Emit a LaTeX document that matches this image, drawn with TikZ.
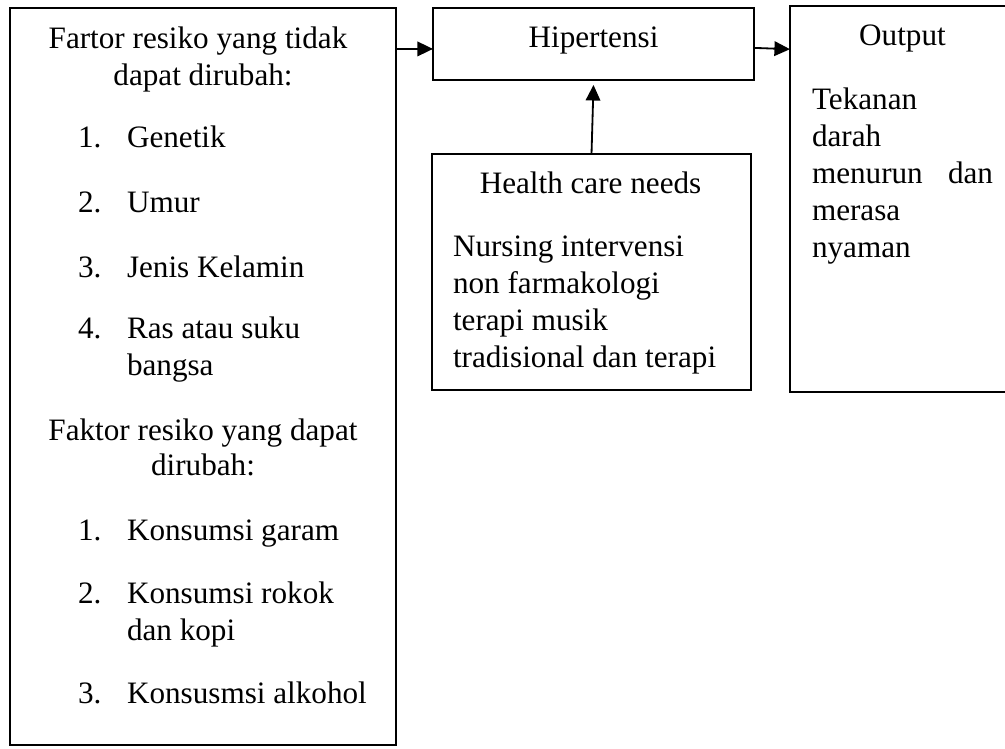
\documentclass[tikz,border=0pt]{standalone}
\usepackage{fontspec}
\setmainfont{Liberation Serif}
\usetikzlibrary{arrows.meta}
\newdimen\pxu \pxu=0.385pt
\tikzset{
  box/.style={draw=black, line width=0.5pt, rectangle, inner sep=0pt, outer sep=0pt, anchor=north west, fill=none},
  txt/.style={inner sep=0pt, outer sep=0pt, font=\fontsize{12}{14}\selectfont},
  arr/.style={line width=0.7pt, -{Triangle[length=6pt,width=5.6pt]}}
}
\begin{document}
\begin{tikzpicture}[x=\pxu, y=-\pxu]
\useasboundingbox (0,0) rectangle (1005,748);
% boxes
\node[box, minimum width=386\pxu, minimum height=737\pxu] (risk) at (10,8) {};
\node[box, minimum width=321\pxu, minimum height=72\pxu] (hip) at (433,8) {};
\node[box, minimum width=225\pxu, minimum height=386\pxu] (out) at (790,6) {};
\node[box, minimum width=319\pxu, minimum height=236\pxu] (hc) at (432,154) {};
% left box text
\node[txt, anchor=base] (r1) at (198,49) {Fartor resiko yang tidak};
\node[txt, anchor=base] (r2) at (203,85) {dapat dirubah:};
\node[txt, anchor=base west] (n1) at (78,147) {1.};
\node[txt, anchor=base west] (i1) at (127,147) {Genetik};
\node[txt, anchor=base west] (n2) at (78,212) {2.};
\node[txt, anchor=base west] (i2) at (127,212) {Umur};
\node[txt, anchor=base west] (n3) at (78,277) {3.};
\node[txt, anchor=base west] (i3) at (127,277) {Jenis Kelamin};
\node[txt, anchor=base west] (n4) at (78,338) {4.};
\node[txt, anchor=base west] (i4) at (127,338) {Ras atau suku};
\node[txt, anchor=base west] (i4b) at (127,375) {bangsa};
\node[txt, anchor=base] (f1) at (203,440) {Faktor resiko yang dapat};
\node[txt, anchor=base] (f2) at (203,475) {dirubah:};
\node[txt, anchor=base west] (m1) at (78,540) {1.};
\node[txt, anchor=base west] (j1) at (127,540) {Konsumsi garam};
\node[txt, anchor=base west] (m2) at (78,603) {2.};
\node[txt, anchor=base west] (j2) at (127,603) {Konsumsi rokok};
\node[txt, anchor=base west] (j2b) at (127,640) {dan kopi};
\node[txt, anchor=base west] (m3) at (78,703) {3.};
\node[txt, anchor=base west] (j3) at (127,703) {Konsusmsi alkohol};
% hipertensi
\node[txt, anchor=base] (hipt) at (593.5,47) {Hipertensi};
% output
\node[txt, anchor=base] (outt) at (902.5,45) {Output};
\node[txt, anchor=base west] (o1) at (812,109) {Tekanan};
\node[txt, anchor=base west] (o2) at (812,146) {darah};
\node[txt, anchor=base west] (o3) at (812,183) {\hbox to 181\pxu{menurun\hfill dan}};
\node[txt, anchor=base west] (o4) at (812,220) {merasa};
\node[txt, anchor=base west] (o5) at (812,257) {nyaman};
% health care
\node[txt, anchor=base] (hct) at (590.5,193) {Health care needs};
\node[txt, anchor=base west] (h1) at (453,256) {Nursing intervensi};
\node[txt, anchor=base west] (h2) at (453,293) {non farmakologi};
\node[txt, anchor=base west] (h3) at (453,330) {terapi musik};
\node[txt, anchor=base west] (h4) at (453,367) {tradisional dan terapi};
% connectors
\coordinate (hipw) at ([yshift=-1.9pt]hip.west);
\coordinate (hipe) at ([yshift=-1.5pt]hip.east);
\coordinate (hipe2) at ([yshift=-2.0pt]hip.east);
\draw[arr] (hipw -| risk.east) -- (hipw);
\draw[arr] (hipe) -- (hipe2 -| out.west);
\draw[arr] (hc.north) -- ([yshift=-1.9pt]hip.south);
\end{tikzpicture}
\end{document}
